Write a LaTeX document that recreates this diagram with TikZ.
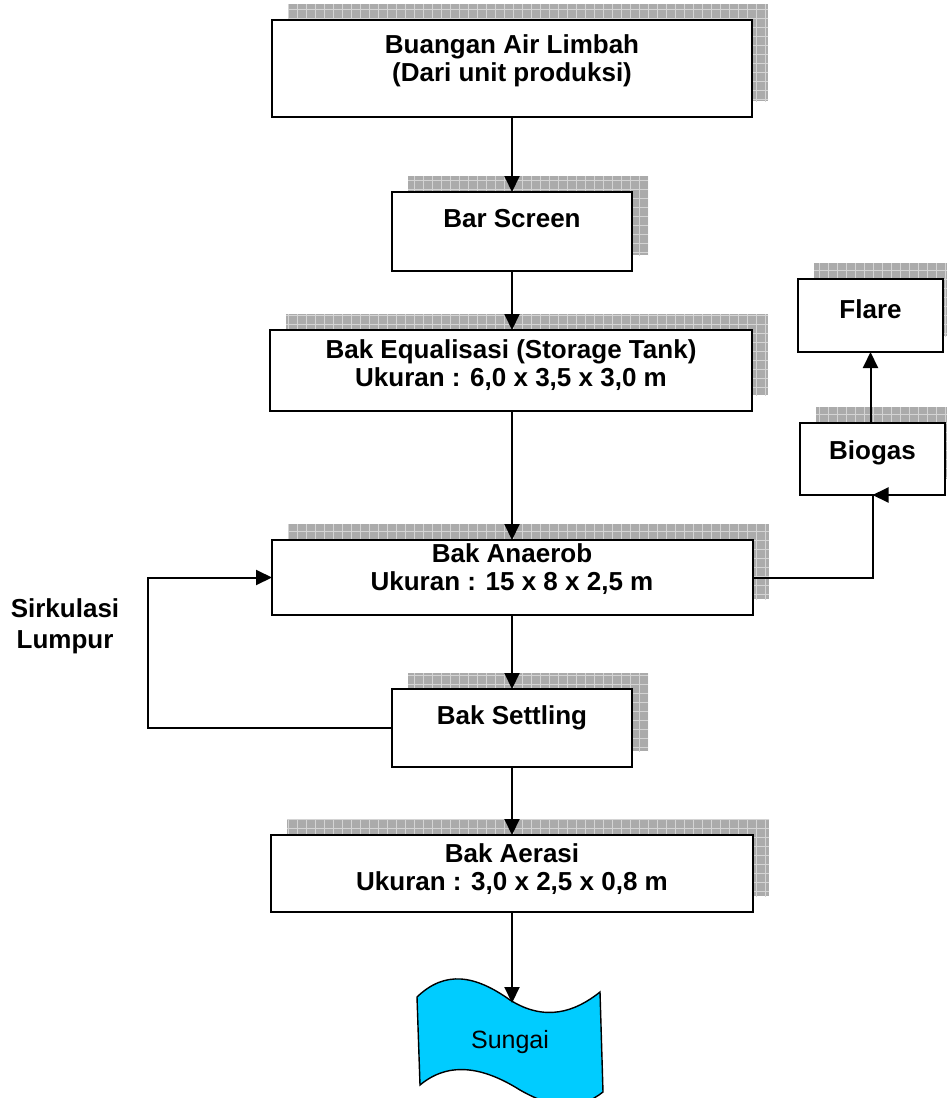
\documentclass[tikz,border=0pt]{standalone}
\usepackage{fontspec}
\setmainfont{Liberation Sans}
\usetikzlibrary{calc,backgrounds,arrows.meta}
\definecolor{sungaiblue}{HTML}{00CCFF}
\definecolor{shadowgray}{HTML}{ABABAB}
\definecolor{shadowline}{HTML}{D4D4D4}
\tikzset{
  procbox/.style={draw=black, fill=white, line width=2pt, inner sep=0pt, outer sep=0pt},
  lbl/.style={font=\fontsize{26}{28}\selectfont\bfseries, align=center, inner sep=0pt},
  flow/.style={line width=2pt, -{Triangle[length=16pt,width=15pt]}},
}
\newcommand\dropshadow[1]{%
  \begin{scope}
    \clip ($(#1.south west)+(16,-16)$) rectangle ($(#1.north east)+(16,-16)$);
    \fill[shadowgray] ($(#1.south west)+(16,-16)$) rectangle ($(#1.north east)+(16,-16)$);
    \draw[shadowline, line width=1pt, step=9pt] ($(#1.south west)+(0,10)$) grid ($(#1.north east)+(40,-40)$);
  \end{scope}}
\begin{document}
\begin{tikzpicture}[x=1pt,y=-1pt]
\useasboundingbox (0,0) rectangle (947,1098);
\clip (0,0) rectangle (947,1098);
% boxes
\node[procbox, minimum width=480pt, minimum height=97pt] (b1) at (512,68.5) {};
\node[lbl] (t1) at (512,61) {Buangan Air Limbah\\(Dari unit produksi)};
\node[procbox, minimum width=240pt, minimum height=79pt] (b2) at (512,231.5) {};
\node[lbl] (t2) at (512,219) {Bar Screen};
\node[procbox, minimum width=482pt, minimum height=81pt] (b3) at (511,370.5) {};
\node[lbl] (t3) at (511,365) {Bak Equalisasi (Storage Tank)\\Ukuran : 6,0 x 3,5 x 3,0 m};
\node[procbox, minimum width=481pt, minimum height=75pt] (b4) at (512.5,577.5) {};
\node[lbl] (t4) at (512,569) {Bak Anaerob\\Ukuran : 15 x 8 x 2,5 m};
\node[procbox, minimum width=240pt, minimum height=78pt] (b5) at (512,728) {};
\node[lbl] (t5) at (512,718) {Bak Settling};
\node[procbox, minimum width=482pt, minimum height=77pt] (b6) at (512,873.5) {};
\node[lbl] (t6) at (512,869) {Bak Aerasi\\Ukuran : 3,0 x 2,5 x 0,8 m};
\node[procbox, minimum width=145pt, minimum height=73pt] (fl) at (870.5,315.5) {};
\node[lbl] (tf) at (870.5,309) {Flare};
\node[procbox, minimum width=145pt, minimum height=72pt] (bg) at (872.5,459) {};
\node[lbl] (tb) at (872.5,453) {Biogas};
\node[lbl, font=\fontsize{26}{31}\selectfont\bfseries] (sl) at (65,626) {Sirkulasi\\Lumpur};
% river
\draw[line width=1.4pt, fill=sungaiblue]
  (417,997) .. controls (445,970) and (475,975) .. (510,1000)
  .. controls (545,1022) and (575,1012) .. (600,992)
  -- (603,1092)
  .. controls (580,1110) and (555,1110) .. (520,1090)
  .. controls (485,1068) and (450,1060) .. (420,1085) -- cycle;
\node[font=\fontsize{25}{28}\selectfont, inner sep=0pt] (sg) at (510,1042) {Sungai};
\coordinate (sgtop) at (512,1003);
% shadows
\begin{scope}[on background layer]
  \foreach \b in {b1,b2,b3,b4,b5,b6,fl,bg} {\dropshadow{\b}}
\end{scope}
% connectors
\draw[flow] (b1.south) -- (b2.north);
\draw[flow] (b2.south) -- (b3.north -| b2.south);
\draw[flow] (b3.south -| b2.south) -- (b4.north -| b2.south);
\draw[flow] (b4.south -| b2.south) -- (b5.north);
\draw[flow] (b5.south) -- (b6.north -| b5.south);
\draw[flow] (b6.south -| b5.south) -- (sgtop);
\coordinate (loopL) at (148,0);
\draw[flow] (b5.west) -| (loopL |- b4.west) -- (b4.west);
\coordinate (bgx) at (873,0);
\draw[flow] (b4.east) -| (bgx |- bg.south) -- (bg.south);
\draw[flow] (bg.north -| fl.south) -- (fl.south);
\end{tikzpicture}
\end{document}
